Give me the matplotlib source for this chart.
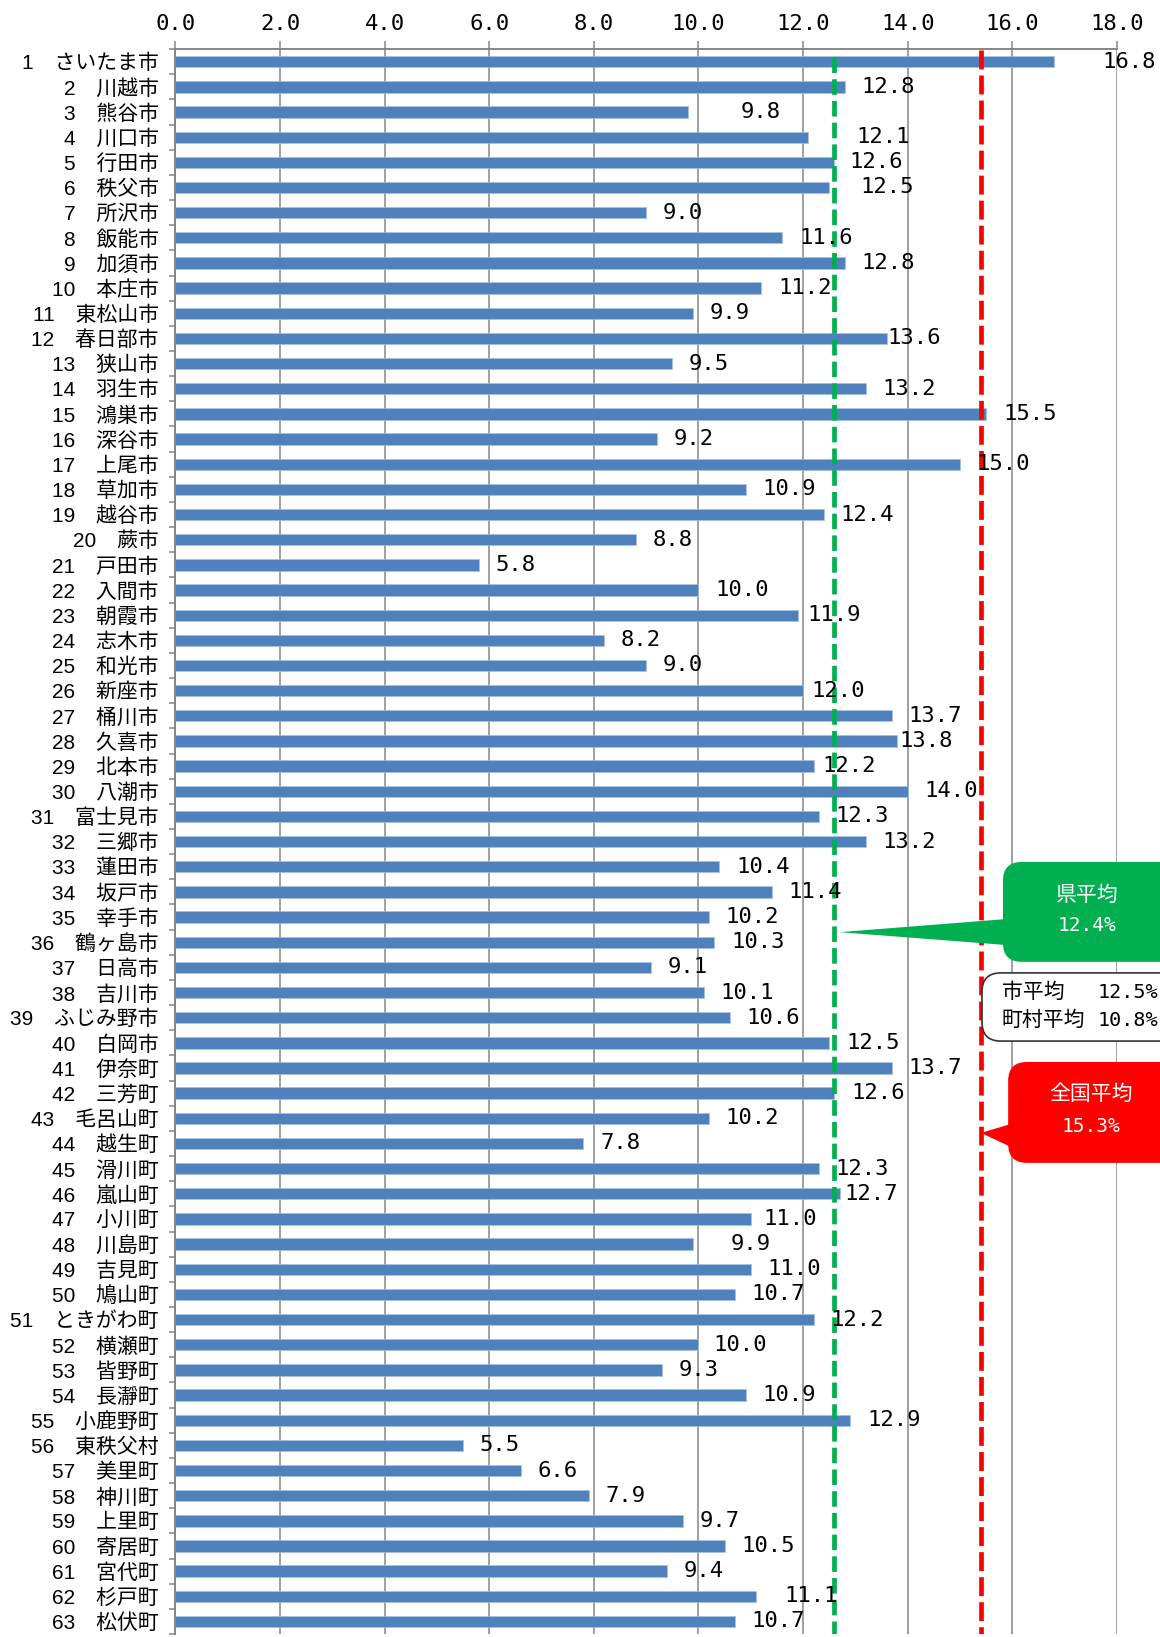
import numpy as np
import matplotlib
matplotlib.use("Agg")
import matplotlib.pyplot as plt
from matplotlib.patches import FancyBboxPatch, Polygon

# 市町村名と値
names = ["さいたま市", "川越市", "熊谷市", "川口市", "行田市", "秩父市", "所沢市", "飯能市",
         "加須市", "本庄市", "東松山市", "春日部市", "狭山市", "羽生市", "鴻巣市", "深谷市",
         "上尾市", "草加市", "越谷市", "蕨市", "戸田市", "入間市", "朝霞市", "志木市",
         "和光市", "新座市", "桶川市", "久喜市", "北本市", "八潮市", "富士見市", "三郷市",
         "蓮田市", "坂戸市", "幸手市", "鶴ヶ島市", "日高市", "吉川市", "ふじみ野市", "白岡市",
         "伊奈町", "三芳町", "毛呂山町", "越生町", "滑川町", "嵐山町", "小川町", "川島町",
         "吉見町", "鳩山町", "ときがわ町", "横瀬町", "皆野町", "長瀞町", "小鹿野町", "東秩父村",
         "美里町", "神川町", "上里町", "寄居町", "宮代町", "杉戸町", "松伏町"]
values = [16.8, 12.8, 9.8, 12.1, 12.6, 12.5, 9.0, 11.6, 12.8, 11.2,
          9.9, 13.6, 9.5, 13.2, 15.5, 9.2, 15.0, 10.9, 12.4, 8.8,
          5.8, 10.0, 11.9, 8.2, 9.0, 12.0, 13.7, 13.8, 12.2, 14.0,
          12.3, 13.2, 10.4, 11.4, 10.2, 10.3, 9.1, 10.1, 10.6, 12.5,
          13.7, 12.6, 10.2, 7.8, 12.3, 12.7, 11.0, 9.9, 11.0, 10.7,
          12.2, 10.0, 9.3, 10.9, 12.9, 5.5, 6.6, 7.9, 9.7, 10.5,
          9.4, 11.1, 10.7]
xticks = [0, 2, 4, 6, 8, 10, 12, 14, 16, 18]

# 平均線 (図上の位置) と吹き出しの数値
pref_line = 12.6
nat_line = 15.4
pref_avg = "12.4%"
city_avg = "12.5%"
town_avg = "10.8%"
nat_avg = "15.3%"

# ラベルの個別ずらし (px)
nudge = {1: 30, 3: 34, 4: 30, 5: -2, 6: 14, 12: -15, 23: -7, 26: -8, 28: -14,
         29: -8, 46: -12, 47: -4, 48: 20, 52: -2, 62: 11}

mono = "DejaVu Sans Mono"
jp = ["Liberation Sans", "Noto Sans CJK JP"]
grid_c = "#868686"

fig = plt.figure(figsize=(11.6, 16.37), dpi=100)
ax = fig.add_axes([0.1512, 0.0018, 0.8117, 0.9682])

n = len(values)
y = np.arange(n)
ax.barh(y, values, height=0.45, color="#4F81BD", edgecolor="#A9C0DE", linewidth=0.5, zorder=2)

ax.set_xlim(0, 18)
ax.set_ylim(n - 0.5, -0.5)

ax.xaxis.tick_top()
ax.set_xticks(xticks)
ax.set_xticklabels([f"{v:.1f}" for v in xticks], fontfamily=mono, fontsize=16)
ax.tick_params(axis="x", length=6, width=1.1, color=grid_c, pad=5)
ax.grid(axis="x", color=grid_c, linewidth=1.1, zorder=0)
ax.set_axisbelow(True)

ax.set_yticks(y)
ax.set_yticklabels([f"{i + 1}\u3000{nm}" for i, nm in enumerate(names)], fontsize=15)
for t in ax.get_yticklabels():
    t.set_fontfamily(jp)
ax.tick_params(axis="y", which="major", length=0, pad=12)
ax.set_yticks(np.arange(n + 1) - 0.5, minor=True)
ax.tick_params(axis="y", which="minor", length=4, width=1.1, color=grid_c)

for s in ["right", "bottom"]:
    ax.spines[s].set_visible(False)
for s in ["top", "left"]:
    ax.spines[s].set_color(grid_c)
    ax.spines[s].set_linewidth(1.4)

# 値ラベル
for i, v in enumerate(values):
    off = (16 + nudge.get(i + 1, 0)) * 1.044 * 0.72
    ax.annotate(f"{v:.1f}", (v, i), xytext=(off, 0), textcoords="offset points",
                va="center", ha="left", fontfamily=mono, fontsize=16, zorder=5)

# 平均線
ax.plot([pref_line, pref_line], [-0.2, n + 1], color="#00B050", lw=3.4,
        dashes=(3.3, 1.3), zorder=4, clip_on=True)
ax.plot([nat_line, nat_line], [-0.45, n + 1], color="#FF0000", lw=3.4,
        dashes=(4.0, 1.3), zorder=4, clip_on=True)

asp = 52.3 / 25.16


def callout(x0, y0, x1, y1, color, tip, base_y, edge=None):
    box = FancyBboxPatch((x0, y0), x1 - x0, y1 - y0,
                         boxstyle="round,pad=0,rounding_size=0.36",
                         mutation_aspect=asp, facecolor=color,
                         edgecolor=edge if edge else color, lw=1.2 if edge else 0,
                         clip_on=False, zorder=6)
    ax.add_patch(box)
    if tip is not None:
        tri = Polygon([tip, (x0 + 0.3, base_y[0]), (x0 + 0.3, base_y[1])],
                      closed=True, facecolor=color, edgecolor="none",
                      clip_on=False, zorder=6)
        ax.add_patch(tri)


# 県平均
callout(15.82, 31.81, 19.5, 35.78, "#00B050", (12.7, 34.6), (34.04, 35.15))
ax.text(17.43, 33.12, "県平均", color="white", fontsize=15, fontfamily=jp,
        ha="center", va="center", zorder=7)
ax.text(17.43, 34.35, pref_avg, color="white", fontsize=14, fontfamily=mono,
        ha="center", va="center", zorder=7)

# 市・町村平均
callout(15.42, 36.22, 19.5, 38.93, "white", None, None, edge="#333333")
ax.text(15.8, 37.0, "市平均", fontsize=15, fontfamily=jp, ha="left", va="center", zorder=7)
ax.text(15.8, 38.1, "町村平均", fontsize=15, fontfamily=jp, ha="left", va="center", zorder=7)
ax.text(17.63, 37.0, city_avg, fontsize=14.5, fontfamily=mono, ha="left", va="center", zorder=7)
ax.text(17.63, 38.1, town_avg, fontsize=14.5, fontfamily=mono, ha="left", va="center", zorder=7)

# 全国平均
callout(15.92, 39.76, 19.5, 43.77, "#FF0000", (nat_line, 42.58), (42.07, 43.38))
ax.text(17.5, 41.04, "全国平均", color="white", fontsize=15, fontfamily=jp,
        ha="center", va="center", zorder=7)
ax.text(17.5, 42.34, nat_avg, color="white", fontsize=14, fontfamily=mono,
        ha="center", va="center", zorder=7)

fig.savefig("out.png", dpi=100)
